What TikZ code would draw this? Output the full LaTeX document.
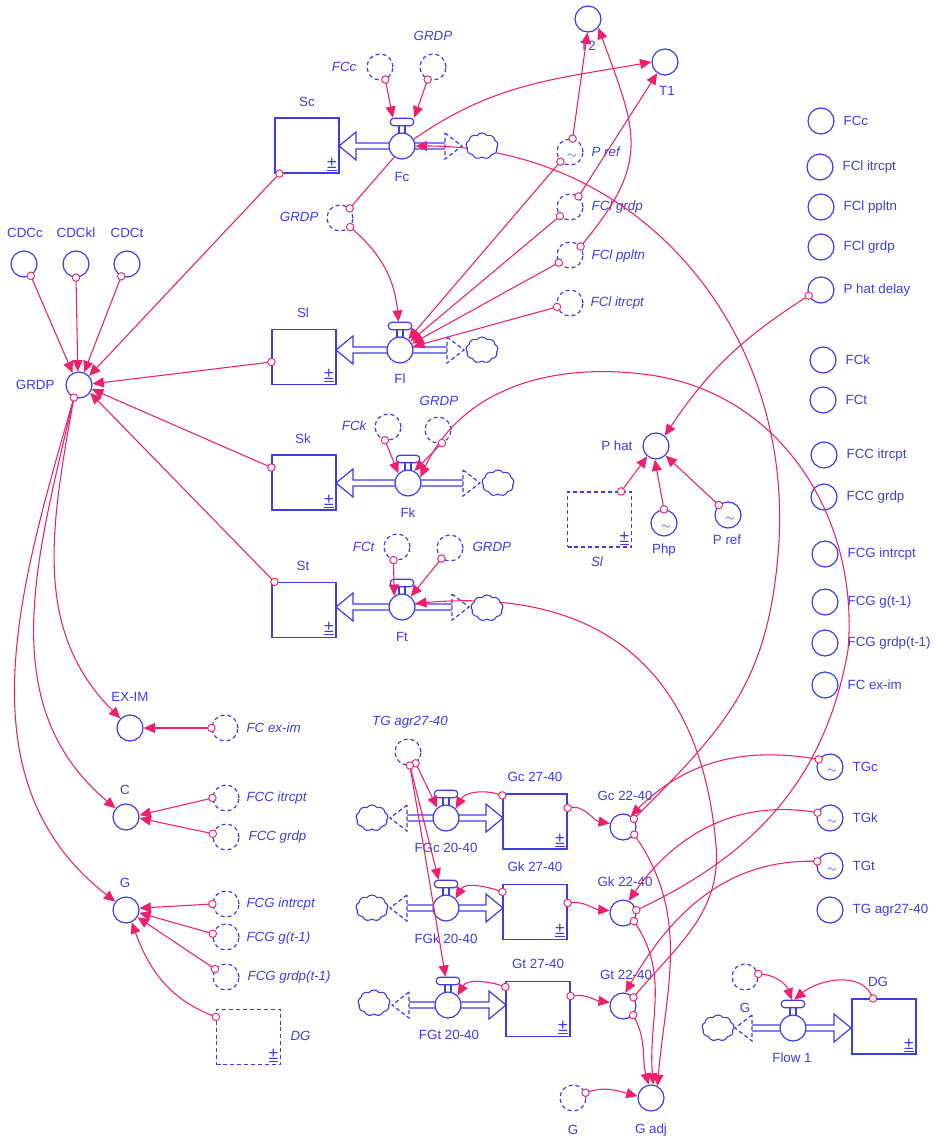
\documentclass[tikz,border=0pt]{standalone}
\usepackage{fontspec}
\setmainfont{Liberation Sans}
\usetikzlibrary{arrows.meta,calc,shapes.symbols}
\definecolor{sblue}{RGB}{60,60,235}
\definecolor{spink}{RGB}{240,30,110}
\pgfdeclarelayer{bg}\pgfdeclarelayer{fg}\pgfsetlayers{bg,main,fg}
\newcommand{\pipeL}[3]{\draw[pipe] (#3,#2-3) -- (#1+17,#2-3) -- (#1+17,#2-14) -- (#1,#2) -- (#1+17,#2+14) -- (#1+17,#2+3) -- (#3,#2+3);}
\newcommand{\pipeR}[3]{\draw[pipe] (#3,#2-3) -- (#1-17,#2-3) -- (#1-17,#2-14) -- (#1,#2) -- (#1-17,#2+14) -- (#1-17,#2+3) -- (#3,#2+3);}
\newcommand{\chevR}[2]{\draw[pipe,dash pattern=on 3pt off 2pt] (#1-17,#2-13) -- (#1,#2) -- (#1-17,#2+13) -- cycle;}
\newcommand{\chevL}[2]{\draw[pipe,dash pattern=on 3pt off 2pt] (#1+17,#2-13) -- (#1,#2) -- (#1+17,#2+13) -- cycle;}
\newcommand{\valve}[3]{%
  \draw[sblue,line width=.8pt] (#2-3,#3-21) -- (#2-3,#3-12) (#2+3,#3-21) -- (#2+3,#3-12);
  \node[aux] (#1) at (#2,#3) {};
  \node[vbar] (#1-b) at (#2,#3-24) {};}
\newcommand{\tld}[1]{\node[tl] (#1-t) at ($(#1)+(2,4)$) {$\sim$};}
\begin{document}
\begin{tikzpicture}[x=0.75pt,y=-0.75pt,
  font=\fontsize{10}{12}\selectfont,
  lbl/.style={text=sblue,inner sep=1pt},
  ilbl/.style={lbl,font=\fontsize{10}{12}\selectfont\itshape},
  aux/.style={circle,draw=sblue,line width=.9pt,minimum size=19.5pt,inner sep=0pt,fill=white},
  ghost/.style={aux,dash pattern=on 3pt off 2.2pt},
  vbar/.style={rectangle,rounded corners=2.5pt,draw=sblue,fill=white,line width=.9pt,minimum width=17.5pt,minimum height=5.5pt,inner sep=0pt},
  stock/.style={rectangle,draw=sblue,line width=.9pt,minimum width=48pt,minimum height=41.25pt,inner sep=0pt,fill=white,
    label={[anchor=south east,inner sep=2pt,text=sblue,font=\fontsize{13}{13}\selectfont]south east:\underline{±}}},
  gstock/.style={stock,dash pattern=on 3pt off 2.2pt},
  cloudn/.style={cloud,cloud puffs=9,cloud puff arc=110,aspect=1.25,draw=sblue,fill=white,line width=.8pt,minimum width=24pt,minimum height=19.5pt,inner sep=0pt},
  pipe/.style={draw=sblue,line width=.9pt,fill=white,line join=miter},
  conn/.style={draw=spink,line width=.8pt,-{Triangle[length=8.5pt,width=7.5pt]}},
  link/.style={draw=spink,line width=.8pt},
  odot/.style={draw=spink,fill=white,line width=.7pt},
  tl/.style={text=sblue,inner sep=0pt,font=\fontsize{9}{9}\selectfont}
]
\useasboundingbox (0,0) rectangle (935,1138);
\begin{pgfonlayer}{bg}
\fill[white] (0,0) rectangle (935,1138);
\pipeL{339}{146}{445} \chevR{462}{146}
\pipeL{336}{350}{447} \chevR{464}{350}
\pipeL{336}{483}{463} \chevR{480}{483}
\pipeL{336}{607}{452} \chevR{469}{607}
\pipeR{503}{818}{407} \chevL{390}{818}
\pipeR{503}{908}{407} \chevL{390}{908}
\pipeR{506}{1005}{409} \chevL{392}{1005}
\pipeR{851}{1028}{752} \chevL{735}{1028}
\end{pgfonlayer}

% ---------- top block ----------
\node[aux] (t2) at (588,19) {};
\node[lbl] (t2l) at (588,46) {T2};
\node[aux] (t1) at (665,62) {};
\node[lbl] (t1l) at (667,91) {T1};
\node[ghost] (fccg) at (380,67) {};
\node[ilbl,anchor=east] (fccgl) at (358,67) {FCc};
\node[ghost] (grdpag) at (433,67) {};
\node[ilbl] (grdpagl) at (433,36) {GRDP};
\node[stock] (sc) at (307,145.5) {};
\node[lbl] (scl) at (307,102) {Sc};
\valve{fc}{402}{146}
\node[lbl] (fcl) at (402,177) {Fc};
\node[ghost] (grdpbg) at (340,218) {};
\node[ilbl,anchor=east] (grdpbgl) at (320,217) {GRDP};

\node[aux] (cdcc) at (24,264) {};
\node[lbl] (cdccl) at (25,233) {CDCc};
\node[aux] (cdckl) at (76,264) {};
\node[lbl] (cdckll) at (76,233) {CDCkl};
\node[aux] (cdct) at (127,264) {};
\node[lbl] (cdctl) at (127,233) {CDCt};
\node[aux] (grdp) at (79,385) {};
\node[lbl,anchor=east] (grdpl) at (56,385) {GRDP};

\node[stock] (sl) at (304,357) {};
\node[lbl] (sll) at (303,313) {Sl};
\valve{fl}{400}{350}
\node[lbl] (fll) at (400,379) {Fl};

\node[ghost] (prefg) at (570,152) {};
\tld{prefg}
\node[ilbl,anchor=west] (prefgl) at (590,152) {P ref};
\node[ghost] (fclgrg) at (570,207) {};
\node[ilbl,anchor=west] (fclgrgl) at (590,207) {FCl grdp};
\node[ghost] (fclppg) at (570,255) {};
\node[ilbl,anchor=west] (fclppgl) at (590,256) {FCl ppltn};
\node[ghost] (fclitg) at (570,303) {};
\node[ilbl,anchor=west] (fclitgl) at (589,303) {FCl itrcpt};

\node[stock] (sk) at (304,482.5) {};
\node[lbl] (skl) at (303,439) {Sk};
\valve{fk}{408}{483}
\node[lbl] (fkl) at (408,513) {Fk};
\node[ghost] (fckg) at (388,427) {};
\node[ilbl,anchor=east] (fckgl) at (368,426) {FCk};
\node[ghost] (grdpkg) at (438,430) {};
\node[ilbl] (grdpkgl) at (439,401) {GRDP};

\node[stock] (st) at (304,610) {};
\node[lbl] (stl) at (303,566) {St};
\valve{ft}{402}{607}
\node[lbl] (ftl) at (402,637) {Ft};
\node[ghost] (fctg) at (397,547) {};
\node[ilbl,anchor=east] (fctgl) at (376,547) {FCt};
\node[ghost] (grdptg) at (450,548) {};
\node[ilbl,anchor=west] (grdptgl) at (471,547) {GRDP};

% ---------- P hat ----------
\node[aux] (phat) at (656,446) {};
\node[lbl,anchor=east] (phatl) at (634,446) {P hat};
\node[gstock] (slg) at (599.5,519.5) {};
\node[ilbl] (slgl) at (597,562) {Sl};
\node[aux] (php) at (664,523) {};
\tld{php}
\node[lbl] (phpl) at (664,550) {Php};
\node[aux] (pref) at (728,515) {};
\tld{pref}
\node[lbl] (prefl) at (727,540) {P ref};

% ---------- right column ----------
\foreach \n/\x/\y/\t in {rfcc/821/121/FCc, rfcli/820/167/FCl itrcpt, rfclp/821/207/FCl ppltn, rfclg/821/247/FCl grdp, phd/821/290/P hat delay, rfck/823/360/FCk, rfct/823/400/FCt, rfcci/824/455/FCC itrcpt, rfccg/824/497/FCC grdp, rfcgi/825/554/FCG intrcpt, rfcgg/825/602/FCG g(t-1), rfcgr/825/643/FCG grdp(t-1), rfcex/825/685/FC ex-im, tgc/830/767/TGc, tgk/830/818/TGk, tgt/830/866/TGt, rtga/830/910/TG agr27-40}{
  \node[aux] (\n) at (\x,\y) {};
  \node[lbl,anchor=west] (\n-l) at (\x+21,\y) {\t};
}
\tld{tgc} \tld{tgk} \tld{tgt}

% ---------- lower left ----------
\node[aux] (exim) at (130,728) {};
\node[lbl] (eximl) at (130,697) {EX-IM};
\node[ghost] (fcexg) at (225,728) {};
\node[ilbl,anchor=west] (fcexgl) at (245,728) {FC ex-im};
\node[aux] (cn) at (126,817) {};
\node[lbl] (cnl) at (125,790) {C};
\node[ghost] (fccig) at (226,798) {};
\node[ilbl,anchor=west] (fccigl) at (245,798) {FCC itrcpt};
\node[ghost] (fccgg) at (226,837) {};
\node[ilbl,anchor=west] (fccggl) at (247,837) {FCC grdp};
\node[aux] (gn) at (126,910) {};
\node[lbl] (gnl) at (125,883) {G};
\node[ghost] (fcgig) at (226,904) {};
\node[ilbl,anchor=west] (fcgigl) at (245,904) {FCG intrcpt};
\node[ghost] (fcggg) at (226,937) {};
\node[ilbl,anchor=west] (fcgggl) at (245,938) {FCG g(t-1)};
\node[ghost] (fcgrg) at (226,977) {};
\node[ilbl,anchor=west] (fcgrgl) at (246,977) {FCG grdp(t-1)};
\node[gstock] (dgg) at (248.5,1037) {};
\node[ilbl,anchor=west] (dggl) at (289,1036) {DG};

% ---------- bottom middle ----------
\node[ghost] (tgag) at (408,752) {};
\node[ilbl] (tgagl) at (410,722) {TG agr27-40};
\valve{fgc}{446}{818}
\node[lbl] (fgcl) at (446,848) {FGc 20-40};
\node[stock] (gc27) at (535,821.5) {};
\node[lbl] (gc27l) at (535,777) {Gc 27-40};
\node[aux] (gc22) at (623,827) {};
\node[lbl] (gc22l) at (625,796) {Gc 22-40};
\valve{fgk}{446}{908}
\node[lbl] (fgkl) at (446,939) {FGk 20-40};
\node[stock] (gk27) at (535,912) {};
\node[lbl] (gk27l) at (535,867) {Gk 27-40};
\node[aux] (gk22) at (623,913) {};
\node[lbl] (gk22l) at (625,882) {Gk 22-40};
\valve{fgt}{448}{1005}
\node[lbl] (fgtl) at (449,1035) {FGt 20-40};
\node[stock] (gt27) at (538,1009) {};
\node[lbl] (gt27l) at (538,964) {Gt 27-40};
\node[aux] (gt22) at (623,1006) {};
\node[lbl] (gt22l) at (626,975) {Gt 22-40};
\node[ghost] (gadjg) at (573,1098) {};
\node[lbl] (gadjgl) at (573,1130) {G};
\node[aux] (gadj) at (651,1098) {};
\node[lbl] (gadjl) at (651,1130) {G adj};

% ---------- Flow 1 ----------
\node[ghost] (gfg) at (745,977) {};
\node[lbl] (gfgl) at (745,1008) {G};
\valve{flow1}{793}{1028}
\node[lbl] (flow1l) at (792,1058) {Flow 1};
\node[stock] (dgs) at (884,1026.5) {};
\node[lbl] (dgsl) at (878,982) {DG};

% ---------- clouds ----------
\begin{pgfonlayer}{fg}
\node[cloudn] (cfc) at (482,146) {};
\node[cloudn] (cfl) at (482,350) {};
\node[cloudn] (cfk) at (498,483) {};
\node[cloudn] (cft) at (487,608) {};
\node[cloudn] (cfgc) at (372,818) {};
\node[cloudn] (cfgk) at (372,908) {};
\node[cloudn] (cfgt) at (374,1003) {};
\node[cloudn] (cfl1) at (718,1028) {};
\end{pgfonlayer}

% ---------- coordinates for stock origins ----------
\coordinate (sc-o) at ($(sc.south west)+(5,0)$);
\coordinate (sl-o) at ($(sl.west)+(0,5)$);
\coordinate (sk-o) at ($(sk.west)+(0,-15)$);
\coordinate (st-o) at ($(st.north west)+(3,0)$);
\coordinate (dgg-o) at ($(dgg.north west)+(0,8)$);
\coordinate (slg-o) at ($(slg.north east)+(-11,0)$);
\coordinate (gc27-o1) at ($(gc27.north west)+(0,2)$);
\coordinate (gc27-o2) at ($(gc27.east)+(0,-13.5)$);
\coordinate (gk27-o1) at ($(gk27.north west)+(0,8)$);
\coordinate (gk27-o2) at ($(gk27.east)+(0,-9)$);
\coordinate (gt27-o1) at ($(gt27.north west)+(0,6)$);
\coordinate (gt27-o2) at ($(gt27.east)+(0,-13)$);
\coordinate (dgs-o) at ($(dgs.north)+(-11,0)$);

% ---------- connectors ----------
\draw[conn] (cdcc.-60) -- (grdp.118);
\draw[conn] (cdckl.-90) -- (grdp.95);
\draw[conn] (cdct.-115) -- (grdp.68);
\draw[conn] (sc-o) -- (grdp.42);
\draw[conn] (sl-o) -- (grdp.5);
\draw[conn] (sk-o) -- (grdp.-18);
\draw[conn] (st-o) -- (grdp.-35);

\draw[conn] (grdp.-112) to[out=-100,in=135] (exim.135);
\draw[conn] (grdp.-112) to[out=-103,in=140] (cn.140);
\draw[conn] (grdp.-112) to[out=-106,in=142] (gn.142);
\draw[conn] (fcexg.180) -- (exim.0);
\draw[conn] (fccig.180) -- (cn.8);
\draw[conn] (fccgg.166) -- (cn.-5);
\draw[conn] (fcgig.180) -- (gn.8);
\draw[conn] (fcggg.166) -- (gn.-12);
\draw[conn] (fcgrg.144) -- (gn.-32);
\draw[conn] (dgg-o) to[out=160,in=-70] (gn.-65);

\draw[conn] (fccg.-67) -- (fc-b.155);
\draw[conn] (grdpag.-113) -- (fc-b.north east);
\draw[link] (grdpbg.45) -- (fc.-125);
\draw[conn] (grdpbg.-42) to[out=-40,in=95] (fl-b.110);
\draw[conn] (fc.30) to[out=35,in=190] (t1.180);
\draw[conn] (fclgrg.51) -- (t1.-125);
\draw[conn] (prefg.79) -- (t2.-92);
\draw[conn] (fclppg.39) to[out=50,in=-70,looseness=1.3] (t2.-40);
\draw[conn] (prefg.-135) -- (fl.52);
\draw[conn] (fclgrg.-138) -- (fl.40);
\draw[conn] (fclppg.-146) -- (fl.28);
\draw[conn] (fclitg.-163) -- (fl.15);
\draw[conn] (gc22.37) to[out=45,in=-95,looseness=1.1] (778,555) to[out=85,in=0,looseness=1.05] (fc.east);

\draw[conn] (fckg.-103) -- (fk.135);
\draw[conn] (grdpkg.-73) -- (fk.62);
\draw[conn] (gk22.12) to[out=25,in=-100] (848,650) to[out=85,in=-8] (650,375) to[out=172,in=65] (fk.25);

\draw[conn] (fctg.-105) -- (ft.125);
\draw[conn] (grdptg.-129) -- (ft.50);
\draw[conn] (gt22.40) to[out=50,in=-85] (716,845) to[out=95,in=5,looseness=1.2] (ft.15);

\draw[conn] (phd.-155) to[bend right=12] (phat.50);
\draw[conn] (slg-o) -- (phat.-130);
\draw[conn] (php.90) -- (phat.-95);
\draw[conn] (pref.133) -- (phat.-45);

\draw[conn] (tgag.-56) -- (fgc.130);
\draw[conn] (tgag.-82) -- (fgk-b.150);
\draw[conn] (tgag.-82) -- (fgt-b.120);
\draw[conn] (gc27-o1) to[out=160,in=60] (fgc.45);
\draw[conn] (gk27-o1) to[out=160,in=60] (fgk.45);
\draw[conn] (gt27-o1) to[out=160,in=60] (fgt.45);
\draw[conn] (gc27-o2) to[out=15,in=170] (gc22.165);
\draw[conn] (gk27-o2) to[out=10,in=175] (gk22.170);
\draw[conn] (gt27-o2) to[out=10,in=172] (gt22.165);
\draw[conn] (tgc.146) to[out=170,in=45] (gc22.55);
\draw[conn] (tgk.157) to[out=170,in=55] (gk22.65);
\draw[conn] (tgt.160) to[out=178,in=60] (gt22.80);
\draw[conn] (gc22.-34) to[out=-55,in=85] (gadj.62);
\draw[conn] (gk22.-37) to[out=-55,in=95] (gadj.80);
\draw[conn] (gt22.-42) to[out=-60,in=105] (gadj.100);
\draw[conn] (gadjg.23) to[out=20,in=165] (gadj.172);

\draw[conn] (gfg.13) to[out=0,in=110] (flow1-b.105);
\draw[conn] (dgs-o) to[out=110,in=40] (flow1-b.75);

% ---------- origin dots ----------
\begin{pgfonlayer}{fg}
\foreach \p in {cdcc.-60, cdckl.-90, cdct.-115, sc-o, sl-o, sk-o, st-o, grdp.-112,
  fcexg.180, fccig.180, fccgg.166, fcgig.180, fcggg.166, fcgrg.144, dgg-o,
  fccg.-67, grdpag.-113, grdpbg.45, grdpbg.-42, fclgrg.51, prefg.79, fclppg.39,
  prefg.-135, fclgrg.-138, fclppg.-146, fclitg.-163, gc22.37,
  fckg.-103, grdpkg.-73, gk22.12, fctg.-105, grdptg.-129, gt22.40,
  phd.-155, slg-o, php.90, pref.133,
  tgag.-56, tgag.-82, gc27-o1, gk27-o1, gt27-o1, gc27-o2, gk27-o2, gt27-o2,
  tgc.146, tgk.157, tgt.160, gc22.-34, gk22.-37, gt22.-42, gadjg.23, gfg.13, dgs-o}
  \draw[odot] (\p) circle[radius=2.8pt];
\end{pgfonlayer}
\end{tikzpicture}
\end{document}
